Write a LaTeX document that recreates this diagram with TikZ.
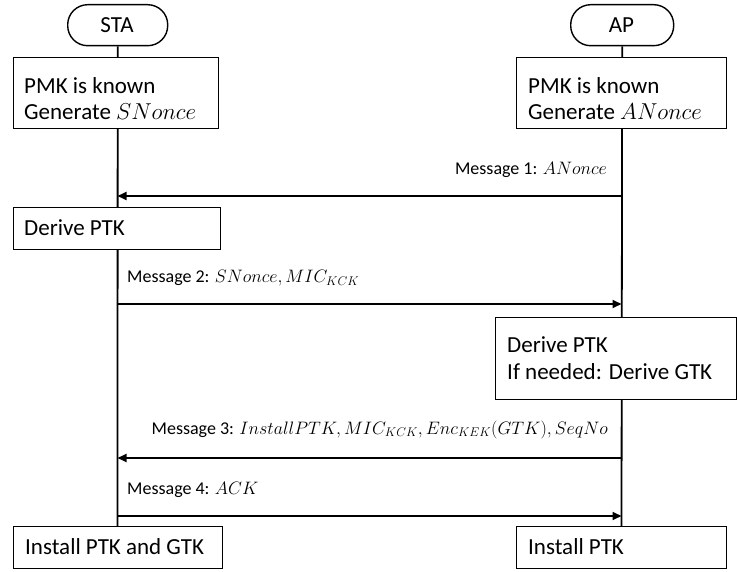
\RequirePackage{fix-cm}
\documentclass[tikz,border=0pt]{standalone}
\usepackage{fontspec}
\setmainfont{Carlito}
\usetikzlibrary{arrows.meta}
\begin{document}
\begin{tikzpicture}[x=1pt,y=-1pt,
  pill/.style={draw, line width=1.4pt, fill=white, rounded corners=20pt,
    inner sep=0pt, anchor=north west},
  box/.style={draw, line width=1.4pt, fill=white, inner sep=0pt, anchor=north west},
  big/.style={font=\fontsize{23}{27}\selectfont, inner sep=0pt, anchor=base west},
  head/.style={font=\fontsize{23}{27}\selectfont, inner sep=0pt, anchor=base},
  msglbl/.style={font=\fontsize{18}{22}\selectfont, inner sep=0pt},
  life/.style={line width=1.8pt},
  msg/.style={line width=2pt, -{Triangle[length=9pt,width=8pt]}}]
\fill[white] (0,0) rectangle (737,572);
\useasboundingbox (0,0) rectangle (737,572);

% lifeline heads
\node[pill, minimum width=100pt, minimum height=41pt] (stapill) at (67,4) {};
\node[pill, minimum width=103pt, minimum height=41pt] (appill) at (570,4) {};

% bottom boxes (lifelines end here)
\coordinate (staend) at (117.5,526);
\coordinate (apend) at (621.5,526);

% lifelines, drawn first so the boxes cover them
\draw[life] (stapill.south) -- (staend);
\draw[life] (appill.south) -- (apend);

\node[head] (statxt) at (117,33) {STA};
\node[head] (aptxt) at (621.5,33) {AP};

% STA side
\node[box, minimum width=205pt, minimum height=71pt] (stainit) at (13,57) {};
\node[big] (stainit1) at (24,93.3) {PMK is known};
\node[big] (stainit2) at (24,120) {Generate $SNonce$};

\node[box, minimum width=207pt, minimum height=42pt] (staderive) at (13,207) {};
\node[big] (staderivetxt) at (24,236) {Derive PTK};

\node[box, minimum width=209pt, minimum height=42pt] (stainst) at (13,526) {};
\node[big] (stainsttxt) at (25,554) {Install PTK and GTK};

% AP side
\node[box, minimum width=210pt, minimum height=71pt] (apinit) at (516,57) {};
\node[big] (apinit1) at (528,93.3) {PMK is known};
\node[big] (apinit2) at (528,120) {Generate $ANonce$};

\node[box, minimum width=240.5pt, minimum height=82pt] (apderive) at (495,317) {};
\node[big] (apderive1) at (507,352.7) {Derive PTK};
\node[big] (apderive2) at (507,380) {If needed: Derive GTK};

\node[box, minimum width=210pt, minimum height=42pt] (apinst) at (516,526) {};
\node[big] (apinsttxt) at (528,554) {Install PTK};

% message end points on the lifelines
\coordinate (s1) at (117.5,196); \coordinate (a1) at (621.5,196);
\coordinate (s2) at (117.5,304); \coordinate (a2) at (621.5,304);
\coordinate (s3) at (117.5,458); \coordinate (a3) at (621.5,458);
\coordinate (s4) at (117.5,516); \coordinate (a4) at (621.5,516);

\draw[msg] (a1) -- (s1);
\draw[msg] (s2) -- (a2);
\draw[msg] (a3) -- (s3);
\draw[msg] (s4) -- (a4);

\node[msglbl, anchor=base east] (m1) at (607,175) {Message 1: $ANonce$};
\node[msglbl, anchor=base west] (m2) at (127,283) {Message 2: $SNonce, MIC_{KCK}$};
\node[msglbl, anchor=base east] (m3) at (608,434)
  {Message 3: $InstallPTK, MIC_{KCK}, Enc_{KEK}(GTK), SeqNo$};
\node[msglbl, anchor=base west] (m4) at (127,494) {Message 4: $ACK$};
\end{tikzpicture}
\end{document}
